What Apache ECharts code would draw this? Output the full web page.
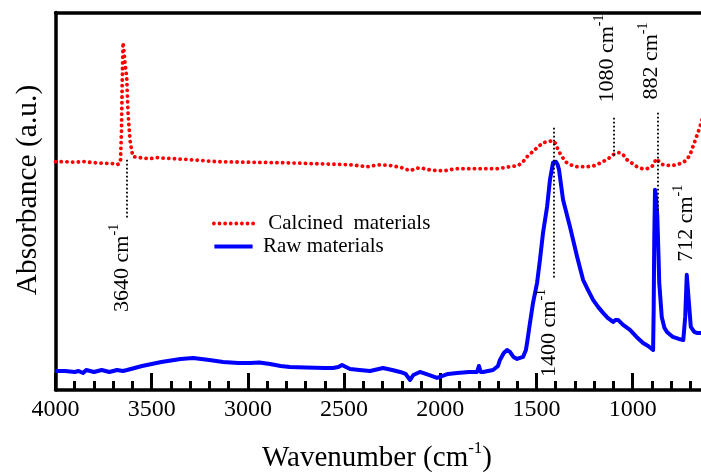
<!DOCTYPE html>
<html><head><meta charset="utf-8">
<script src="https://cdn.jsdelivr.net/npm/echarts@6/dist/echarts.min.js"></script>
<style>html,body{margin:0;padding:0;background:#fff}#c{width:701px;height:472px}</style>
</head><body><div id="c"></div>
<script>
// ---- data (wavenumber cm^-1, absorbance a.u.) ----
const calcinedWN = [4000,3950,3900,3850,3800,3750,3700,3680,3668,3662,3657,3653,3649,3645,3638,3630,3623,3613,3603,3597,3560,3509,3472,3300,3161,3000,2818,2650,2469,2381,2313,2250,2200,2157,2130,2106,2060,2017,1976,1920,1846,1780,1705,1638,1596,1570,1549,1520,1497,1466,1440,1414,1400,1393,1380,1367,1350,1326,1290,1237,1200,1154,1120,1102,1080,1066,1050,1030,1000,978,950,926,900,882,874,860,843,800,770,740,718,700,687,670,650,630,610];
const calcinedAbs = [228,228,227.5,228,227,226.5,226,225,226,230,260,310,347,340,325,313,277,250,238,233,232,231,232,230,228,227.5,227,226,225,223,225,224,222,219,221,222,220,219,219,221,221,221,221,223,224,228,233,238,242,247,248,249,246,242,237,233,228,225,223,223,224,228,232,235,237,237,235,230,226,223,221,221,223,229,231,227,225,224,225,227,230,236,243,252,263,276,290];
const rawWN = [4000,3950,3900,3880,3857,3840,3800,3760,3720,3680,3650,3628,3550,3450,3350,3285,3200,3129,3050,2989,2940,2885,2830,2781,2700,2600,2558,2530,2511,2490,2469,2420,2365,2320,2298,2250,2209,2180,2157,2140,2106,2060,2017,2002,1960,1913,1850,1809,1799,1790,1778,1726,1700,1690,1670,1653,1638,1620,1601,1570,1555,1549,1534,1518,1497,1482,1466,1445,1430,1414,1399,1390,1383,1362,1326,1289,1258,1230,1206,1180,1154,1130,1102,1090,1076,1050,1014,980,946,920,894,891,888,884,878,872,866,862,849,835,822,791,760,737,727,719,709,698,680,667,645,620];
const rawAbs = [19,19,18,19,17,20,18,20,18,20,19,20,24,28,31,32,30,28,27,27,27.5,26,24,23,22.5,22,22,23,25,23,21,20,19,21,22,20,18,16,10,15,18,15,12,13,16,17,18,18,24,18,18,20,24,30,37,40,38,33,31,33,40,47,67,87,107,130,157,183,210,227,228,225,220,190,163,133,110,99,90,83,77,72,68,70,70,65,60,53,47,44,40,80,150,200,190,173,135,107,73,62,58,53,51,50,73,115,90,63,58,57,57,57];
// x axis: visible range and tick values
const xMin = 645, xMax = 4000;
const xMajorTicks = [1000, 1500, 2000, 2500, 3000, 3500, 4000];
const xMinorTicks = [700, 800, 900, 1100, 1200, 1300, 1400, 1600, 1700, 1800, 1900, 2100, 2200, 2300, 2400, 2600, 2700, 2800, 2900, 3100, 3200, 3300, 3400, 3600, 3700, 3800, 3900];
const yMin = 0, yMax = 377;
// peak marker lines: wavenumber, absorbance from, absorbance to
const markerWN = [3632, 1412, 1100, 869];
const markerFrom = [230, 262, 272, 277];
const markerTo = [170, 112, 233, 177];
// peak labels: text, anchor wavenumber, anchor absorbance (start of rotated text)
const peakLabels = ['3640 cm', '1400 cm', '1080 cm', '882 cm', '712 cm'];
const peakLabelWN = [3654, 1435, 1134, 905, 723];
const peakLabelAbs = [78, 13, 287, 290, 128];
const seriesNames = ['Calcined  materials', 'Raw materials'];

const FONT = "'Liberation Serif','Times New Roman',serif";
const chart = echarts.init(document.getElementById('c'), null, {renderer: 'canvas'});

const calcData = calcinedWN.map((w, i) => [w, calcinedAbs[i]]);
const rawData = rawWN.map((w, i) => [w, rawAbs[i]]);
const markData = markerWN.map((w, i) => [{coord: [w, markerFrom[i]]}, {coord: [w, markerTo[i]]}]);

// legend icons: a row of dots, and a solid bar
let dots = '';
for (let k = 0; k < 8; k++) {
  const cx = 2 + k * 5.6;
  dots += 'M' + (cx - 1.9) + ',2a1.9,1.9 0 1,0 3.8,0a1.9,1.9 0 1,0 -3.8,0z';
}
const dotIcon = 'path://' + dots;
const barIcon = 'path://M0,0h43v4.5h-43z';

const blackLine = {color: '#000', width: 3.5};
chart.setOption({
  animation: false,
  backgroundColor: '#fff',
  grid: {left: 55.5, right: 0, top: 12.5, bottom: 82, show: false, containLabel: false},
  xAxis: [
    {
      type: 'value', inverse: true, min: xMin, max: xMax, position: 'bottom',
      axisLine: {show: true, onZero: false, lineStyle: blackLine},
      axisTick: {show: true, inside: true, length: 17, customValues: xMajorTicks, lineStyle: {color: '#000', width: 3}},
      axisLabel: {color: '#000', fontSize: 24, fontFamily: FONT, margin: 8, customValues: xMajorTicks, formatter: v => String(v)},
      splitLine: {show: false}
    },
    {
      type: 'value', inverse: true, min: xMin, max: xMax, position: 'bottom',
      axisLine: {show: false, onZero: false},
      axisTick: {show: true, inside: true, length: 9, customValues: xMinorTicks, lineStyle: {color: '#000', width: 3}},
      axisLabel: {show: false}, splitLine: {show: false}
    },
    {
      type: 'value', inverse: true, min: xMin, max: xMax, position: 'top',
      axisLine: {show: true, onZero: false, lineStyle: blackLine},
      axisTick: {show: false}, axisLabel: {show: false}, splitLine: {show: false}
    }
  ],
  yAxis: {
    type: 'value', min: yMin, max: yMax,
    axisLine: {show: true, onZero: false, lineStyle: blackLine},
    axisTick: {show: false}, axisLabel: {show: false}, splitLine: {show: false}
  },
  legend: {
    orient: 'vertical', left: 207, top: 208, itemWidth: 43, itemHeight: 4, itemGap: 2,
    formatter: n => n === seriesNames[0] ? ' ' + n : n,
    textStyle: {color: '#000', fontSize: 21, fontFamily: FONT, lineHeight: 21, padding: [0, 0, 0, 3]},
    data: [
      {name: seriesNames[0], icon: dotIcon, itemStyle: {color: '#ff0000'}},
      {name: seriesNames[1], icon: barIcon, itemStyle: {color: '#0000ff'}}
    ]
  },
  series: [
    {
      name: seriesNames[0], type: 'line', data: calcData, showSymbol: false, symbol: 'none',
      lineStyle: {color: '#ff0000', width: 3.8, type: [0.1, 5.6], cap: 'round', join: 'round'},
      itemStyle: {color: '#ff0000'}, z: 3,
      markLine: {
        silent: true, symbol: ['none', 'none'], label: {show: false},
        lineStyle: {color: '#000', width: 1.8, type: [1.8, 2.2]},
        data: markData
      }
    },
    {
      name: seriesNames[1], type: 'line', data: rawData, showSymbol: false, symbol: 'none',
      lineStyle: {color: '#0000ff', width: 4, join: 'round'},
      itemStyle: {color: '#0000ff'}, z: 2
    }
  ]
});

function rotText(x, y, main, size, sup, supSize, lh) {
  return {
    type: 'text', x: x, y: y, rotation: Math.PI / 2, z: 100,
    style: {
      text: '{a|' + main + '}{b|' + sup + '}',
      fontFamily: FONT, fontSize: size, fill: '#000', align: 'left', verticalAlign: 'middle',
      rich: {
        a: {fontFamily: FONT, fontSize: size, lineHeight: lh, color: '#000'},
        b: {fontFamily: FONT, fontSize: supSize, lineHeight: supSize, verticalAlign: 'top', color: '#000'}
      }
    }
  };
}

const graphics = [];
peakLabels.forEach((t, i) => {
  const p = chart.convertToPixel({gridIndex: 0}, [peakLabelWN[i], peakLabelAbs[i]]);
  graphics.push(rotText(p[0], p[1], t, 22, '-1', 14, 30));
});
// y axis name
graphics.push({
  type: 'text', x: 28, y: 190, rotation: Math.PI / 2,
  style: {text: 'Absorbance (a.u.)', fontFamily: FONT, fontSize: 29.5, fill: '#000', align: 'center', verticalAlign: 'middle'}
});
// x axis name
graphics.push({
  type: 'text', x: 377, y: 458,
  style: {
    text: '{a|Wavenumber (cm}{b|-1}{a|)}', align: 'center', verticalAlign: 'middle', fontFamily: FONT, fontSize: 29, fill: '#000',
    rich: {
      a: {fontFamily: FONT, fontSize: 29, lineHeight: 36, color: '#000'},
      b: {fontFamily: FONT, fontSize: 17, lineHeight: 17, verticalAlign: 'top', color: '#000'}
    }
  }
});
chart.setOption({graphic: {elements: graphics}});
</script>
</body></html>
